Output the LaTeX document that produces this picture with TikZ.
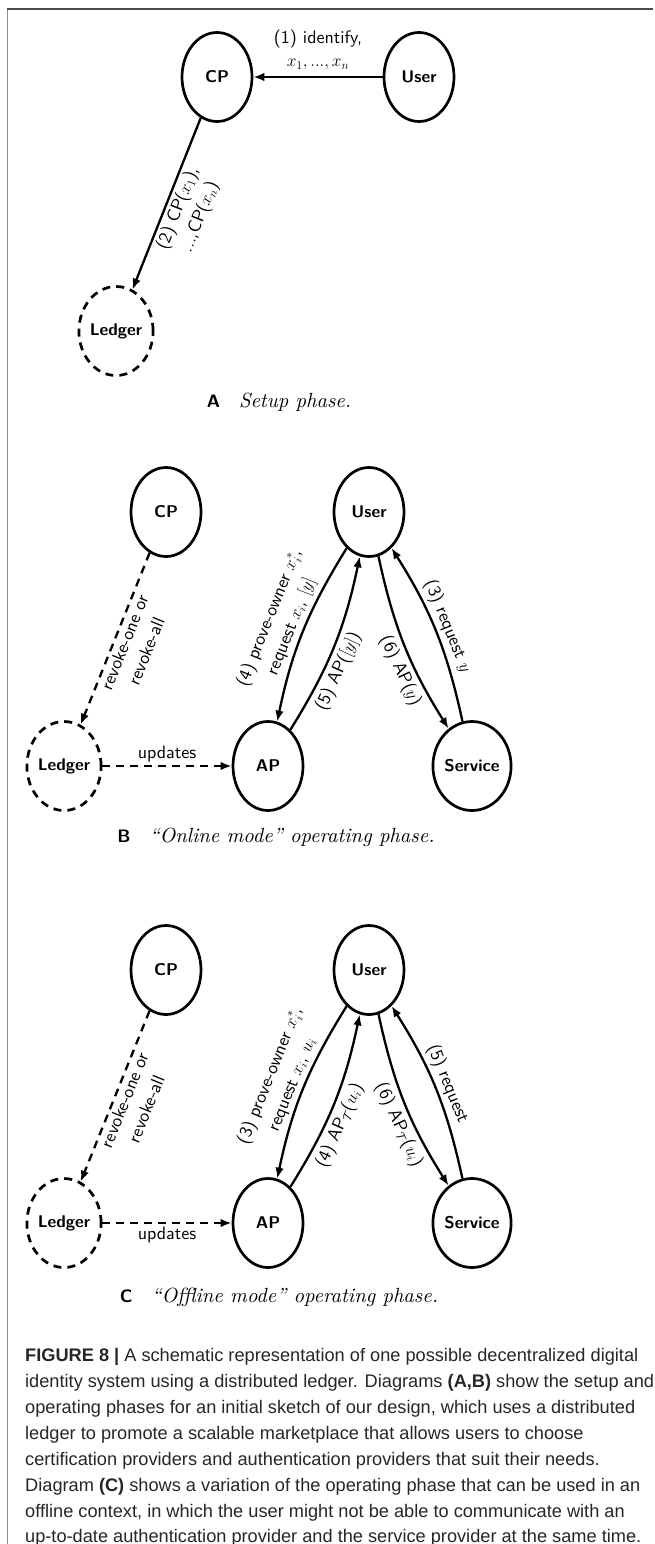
\documentclass[tikz,border=0pt]{standalone}
\usepackage{fontspec}
\newfontfamily\capfont{Liberation Sans}
\newfontfamily\lmsten{lmsans10}[Extension=.otf, UprightFont=*-regular, BoldFont=*-bold]
\newfontfamily\lmrten{lmroman10}[Extension=.otf, UprightFont=*-regular, ItalicFont=*-italic]
\usetikzlibrary{shapes.geometric,arrows.meta}
\tikzset{
  ent/.style={ellipse, draw, line width=2.7pt, minimum width=70pt, minimum height=89pt, inner sep=0pt,
    font=\lmsten\bfseries\fontsize{17}{20}\selectfont},
  ledger/.style={ent, dash pattern=on 8pt off 6pt},
  arr/.style={line width=2.3pt, -{Latex[length=11pt,width=8.5pt]}},
  darr/.style={arr, dash pattern=on 8pt off 6pt},
  lab/.style={font=\lmsten\fontsize{18}{23.5}\selectfont, align=center, inner sep=2.5pt},
  phase/.style={font=\lmrten\fontsize{20.5}{24}\selectfont, inner sep=0pt},
  capline/.style={anchor=west, font=\capfont\fontsize{18.2}{22}\selectfont, inner sep=0pt, text=black!85}
}
\newcommand{\panel}[1]{{\lmsten\bfseries\fontsize{18}{20}\selectfont #1}\hspace{19pt}}
\begin{document}
\begin{tikzpicture}[x=1pt,y=-1pt]
\useasboundingbox (0,0) rectangle (654,1544);
\draw[draw=black!45, line width=1.8pt] (7.5,1544) -- (7.5,9);
\draw[draw=black!70, line width=1.6pt] (6.6,9) -- (653,9);

% ---------- Panel A ----------
\node[ent] (cpA) at (217,77) {CP};
\node[ent] (userA) at (419,77) {User};
\node[ledger] (ledA) at (116,331) {Ledger};
\draw[arr] (userA) -- node[lab, above=3pt] {(1) identify,\\$x_1, ..., x_n$} (cpA);
\draw[arr] (cpA) -- node[lab, sloped, below] {(2) CP($x_1$),\\...,CP($x_n$)} (ledA);
\node[phase] (capA) at (279,402) {\panel{A}\textit{Setup phase.}};

% ---------- Panel B ----------
\node[ent] (cpB) at (166,512) {CP};
\node[ent] (userB) at (369,512) {User};
\node[ledger] (ledB) at (64,766) {Ledger};
\node[ent] (apB) at (268,766) {AP};
\node[ent] (svB) at (472,766) {Service};
\draw[darr] (cpB) -- node[lab, sloped, below] {revoke-one or\\revoke-all} (ledB);
\draw[darr] (ledB) -- node[lab, above] {updates} (apB);
\draw[arr] (userB) to[bend right=10] node[lab, pos=0.5, sloped, above] {(4) prove-owner $x_i^*$,\\request $x_i$, $[y]$} (apB);
\draw[arr] (apB) to[bend right=10] node[lab, pos=0.38, sloped, below, inner sep=4pt] {(5) AP($[y]$)} (userB);
\draw[arr] (userB) to[bend right=10] node[lab, pos=0.62, sloped, below, inner sep=4pt] {(6) AP($y$)} (svB);
\draw[arr] (svB) to[bend right=10] node[lab, pos=0.5, sloped, above] {(3) request $y$} (userB);
\node[phase] (capB) at (276,837) {\panel{B}\textit{“Online mode” operating phase.}};

% ---------- Panel C ----------
\node[ent] (cpC) at (166,970) {CP};
\node[ent] (userC) at (369,970) {User};
\node[ledger] (ledC) at (64,1223) {Ledger};
\node[ent] (apC) at (268,1223) {AP};
\node[ent] (svC) at (472,1223) {Service};
\draw[darr] (cpC) -- node[lab, sloped, below] {revoke-one or\\revoke-all} (ledC);
\draw[darr] (ledC) -- node[lab, below] {updates} (apC);
\draw[arr] (userC) to[bend right=10] node[lab, pos=0.5, sloped, above] {(3) prove-owner $x_i^*$,\\request $x_i$, $u_i$} (apC);
\draw[arr] (apC) to[bend right=10] node[lab, pos=0.4, sloped, below, inner sep=4pt] {(4) AP$_{\mathcal{T}}$($u_i$)} (userC);
\draw[arr] (userC) to[bend right=10] node[lab, pos=0.6, sloped, below, inner sep=4pt] {(6) AP$_{\mathcal{T}}$($u_i$)} (svC);
\draw[arr] (svC) to[bend right=10] node[lab, pos=0.5, sloped, above] {(5) request} (userC);
\node[phase] (capC) at (279,1297) {\panel{C}\textit{“Offline mode” operating phase.}};

% ---------- Caption ----------
\node[capline] (c1) at (25,1357) {{\bfseries FIGURE 8 |} A schematic representation of one possible decentralized digital};
\node[capline] (c2) at (25,1383) {identity system using a distributed ledger. Diagrams {\bfseries (A,B)} show the setup and};
\node[capline] (c3) at (25,1409) {operating phases for an initial sketch of our design, which uses a distributed};
\node[capline] (c4) at (25,1435) {ledger to promote a scalable marketplace that allows users to choose};
\node[capline] (c5) at (25,1461) {certification providers and authentication providers that suit their needs.};
\node[capline] (c6) at (25,1487) {Diagram {\bfseries (C)} shows a variation of the operating phase that can be used in an};
\node[capline] (c7) at (25,1513) {offline context, in which the user might not be able to communicate with an};
\node[capline] (c8) at (25,1538) {up-to-date authentication provider and the service provider at the same time.};
\end{tikzpicture}
\end{document}
